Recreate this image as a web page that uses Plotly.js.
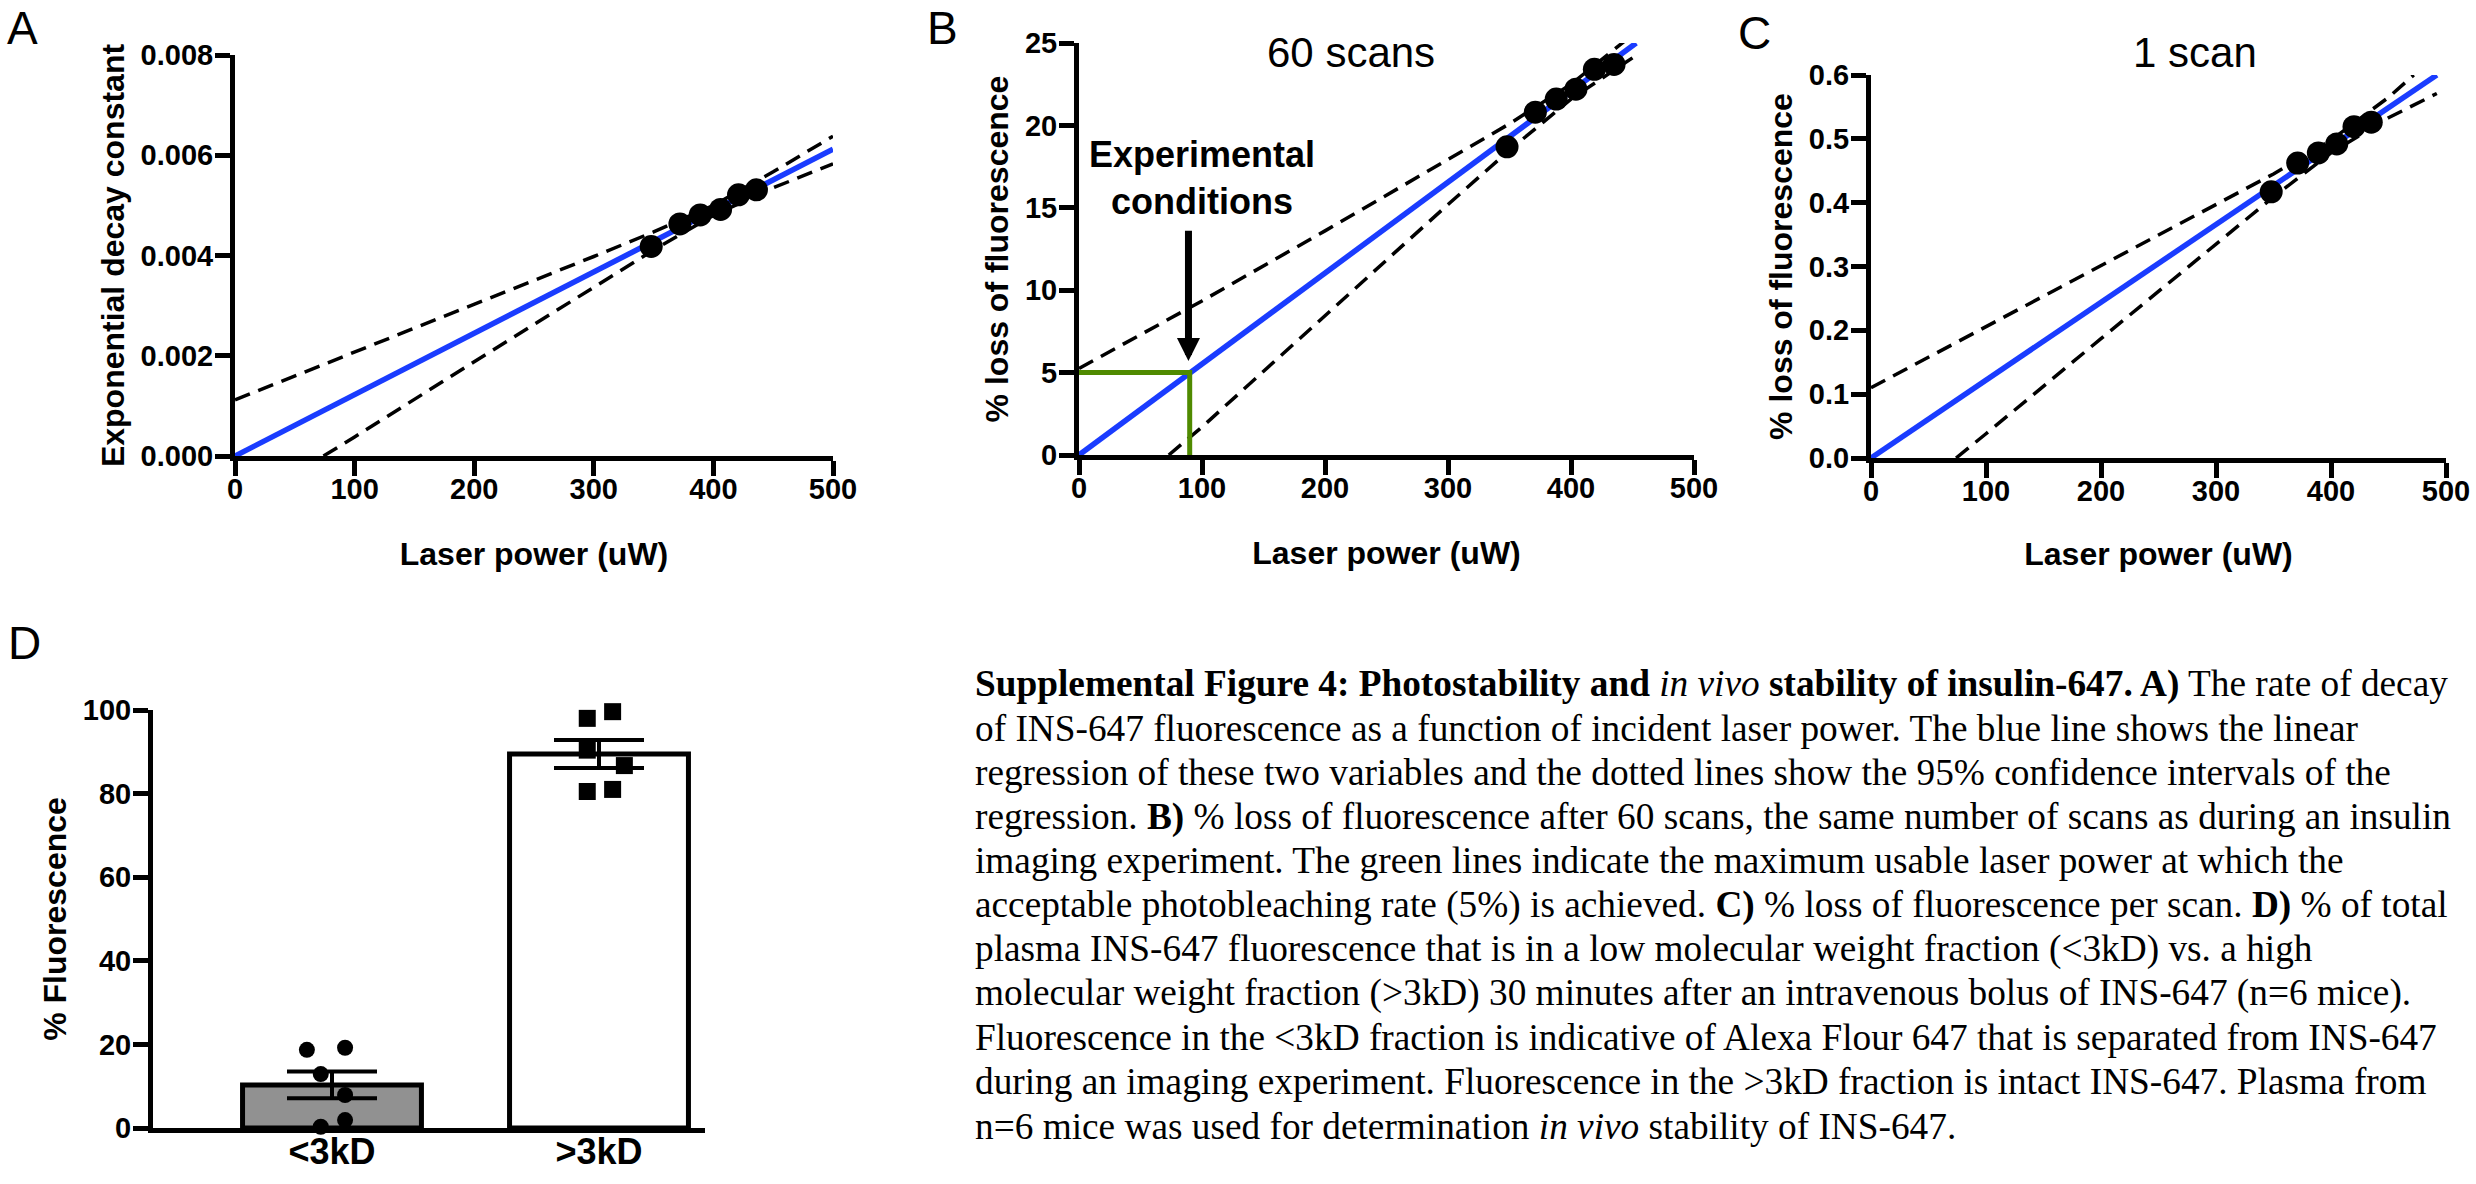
<!DOCTYPE html>
<html>
<head>
<meta charset="utf-8">
<script src="https://cdn.plot.ly/plotly-3.0.1.min.js"></script>
<style>
  html, body { margin: 0; padding: 0; background: #ffffff; }
  #fig { width: 2476px; height: 1184px; }
</style>
</head>
<body>
<div id="fig"></div>
<script>
// ================= DATA =================
// Panel A: exponential decay constant vs laser power
const laserPowerA   = [348, 372, 389, 406, 421, 436];
const decayConstant = [0.00418, 0.00463, 0.00481, 0.00492, 0.00521, 0.00531];
const fitXA = [0, 500];
const fitYA = [0, 0.00612];
const ciUpperXA = [0, 100, 200, 300, 350, 400, 450, 500];
const ciUpperYA = [0.00112, 0.00207, 0.00302, 0.00398, 0.00447, 0.00500, 0.00567, 0.00638];
const ciLowerXA = [74, 100, 200, 300, 350, 400, 450, 500];
const ciLowerYA = [0, 0.00038, 0.00188, 0.00337, 0.00411, 0.00480, 0.00535, 0.00583];

// Panel B: % loss of fluorescence after 60 scans
const laserPowerB = [348, 371, 388, 404, 419, 435];
const loss60Scans = [18.7, 20.8, 21.6, 22.2, 23.4, 23.7];
const fitXB = [0, 453];
const fitYB = [0, 25];
const ciUpperXB = [0, 100, 200, 300, 350, 400, 450];
const ciUpperYB = [5.25, 9.35, 13.6, 17.9, 20.1, 22.5, 25.5];
const ciLowerXB = [73, 100, 200, 300, 350, 400, 450];
const ciLowerYB = [0, 1.7, 8.45, 15.2, 18.5, 21.6, 24.1];
const usableX = [0, 90, 90];      // green "experimental conditions" guide
const usableY = [5, 5, 0];
const arrowPower = 89;
const arrowFrom = 13.7, arrowTo = 5.7;

// Panel C: % loss of fluorescence per scan
const laserPowerC = [348, 371, 389, 405, 420, 435];
const loss1Scan   = [0.417, 0.462, 0.478, 0.492, 0.519, 0.526];
const fitXC = [0, 492];
const fitYC = [0, 0.6];
const ciUpperXC = [0, 100, 200, 300, 350, 400, 450, 472];
const ciUpperYC = [0.11, 0.206, 0.301, 0.3965, 0.445, 0.498, 0.565, 0.6];
const ciLowerXC = [74, 100, 200, 300, 350, 400, 450, 492];
const ciLowerYC = [0, 0.038, 0.187, 0.336, 0.409, 0.478, 0.533, 0.571];

// Panel D: % fluorescence by molecular weight fraction
const fractions = ['<3kD', '>3kD'];
const meanPct   = [10.3, 89.5];
const semPct    = [3.2, 3.35];
const lowMWPct  = [18.7, 19.2, 12.9, 7.9, 1.9, 0.3];
const highMWPct = [98.0, 99.6, 90.4, 86.7, 80.5, 81.0];

// Tick values
const powerTicks = [0, 100, 200, 300, 400, 500];

// ================= STYLE / LAYOUT =================
const W = 2476, H = 1184;
const px = v => v / W;
const py = v => 1 - v / H;
const SANS = 'Liberation Sans, Arial, Helvetica, sans-serif';
const SERIF = 'Liberation Serif, Times New Roman, serif';
const BLUE = '#1a3cff';
const GREEN = '#4f8a00';
const dashStyle = {color: '#000000', width: 3.5, dash: '16px,9px'};
// horizontal scatter of the dots inside each bar (style only)
const lowJitter  = [-0.094, 0.049, -0.042, 0.049, 0.049, -0.042];
const highJitter = [-0.044, 0.051, -0.044, 0.095, -0.044, 0.051];

function ax(extra) {
  return Object.assign({
    showline: true, linecolor: '#000000', linewidth: 5,
    ticks: 'outside', ticklen: 15, tickwidth: 5, tickcolor: '#000000',
    showgrid: false, zeroline: false, fixedrange: true,
    tickfont: {family: SANS, size: 29, color: '#000000', weight: 'bold'}
  }, extra);
}
function ttl(text, standoff) {
  return {text: text, standoff: standoff,
          font: {family: SANS, size: 32, color: '#000000', weight: 'bold'}};
}

const traces = [];
function regressionPanel(xa, ya, cx1, cy1, cx2, cy2, fx, fy, px_, py_) {
  traces.push({type: 'scatter', mode: 'lines', x: cx1, y: cy1, xaxis: xa, yaxis: ya,
               line: dashStyle, hoverinfo: 'skip'});
  traces.push({type: 'scatter', mode: 'lines', x: cx2, y: cy2, xaxis: xa, yaxis: ya,
               line: dashStyle, hoverinfo: 'skip'});
  traces.push({type: 'scatter', mode: 'lines', x: fx, y: fy, xaxis: xa, yaxis: ya,
               line: {color: BLUE, width: 5.5}});
  return {type: 'scatter', mode: 'markers', x: px_, y: py_, xaxis: xa, yaxis: ya,
          cliponaxis: false, marker: {color: '#000000', size: 23, symbol: 'circle'}};
}
const dotsA = regressionPanel('x', 'y', ciUpperXA, ciUpperYA, ciLowerXA, ciLowerYA, fitXA, fitYA, laserPowerA, decayConstant);
traces.push(dotsA);
const dotsB = regressionPanel('x2', 'y2', ciUpperXB, ciUpperYB, ciLowerXB, ciLowerYB, fitXB, fitYB, laserPowerB, loss60Scans);
traces.push({type: 'scatter', mode: 'lines', x: usableX, y: usableY, xaxis: 'x2', yaxis: 'y2',
             line: {color: GREEN, width: 5}});
traces.push(dotsB);
const dotsC = regressionPanel('x3', 'y3', ciUpperXC, ciUpperYC, ciLowerXC, ciLowerYC, fitXC, fitYC, laserPowerC, loss1Scan);
traces.push(dotsC);

// Panel D bars + error bars
traces.push({type: 'bar', x: fractions.map((c, i) => i), y: meanPct, xaxis: 'x4', yaxis: 'y4',
             width: 0.67,
             marker: {color: ['#919191', '#ffffff'], line: {color: '#000000', width: 5}},
             error_y: {type: 'data', array: semPct, visible: true, color: '#000000', thickness: 4, width: 45}});
traces.push({type: 'scatter', mode: 'markers', xaxis: 'x4', yaxis: 'y4', cliponaxis: false,
             x: lowMWPct.map((v, i) => 0 + lowJitter[i]), y: lowMWPct,
             marker: {color: '#000000', size: 16, symbol: 'circle'}});
traces.push({type: 'scatter', mode: 'markers', xaxis: 'x4', yaxis: 'y4', cliponaxis: false,
             x: highMWPct.map((v, i) => 1 + highJitter[i]), y: highMWPct,
             marker: {color: '#000000', size: 17, symbol: 'square'}});

// Caption text lines
const captionLines = [
  '<b>Supplemental Figure 4: Photostability and </b><i>in vivo</i><b> stability of insulin-647. A)</b> The rate of decay',
  'of INS-647 fluorescence as a function of incident laser power. The blue line shows the linear',
  'regression of these two variables and the dotted lines show the 95% confidence intervals of the',
  'regression. <b>B)</b> % loss of fluorescence after 60 scans, the same number of scans as during an insulin',
  'imaging experiment. The green lines indicate the maximum usable laser power at which the',
  'acceptable photobleaching rate (5%) is achieved. <b>C)</b> % loss of fluorescence per scan. <b>D)</b> % of total',
  'plasma INS-647 fluorescence that is in a low molecular weight fraction (&lt;3kD) vs. a high',
  'molecular weight fraction (&gt;3kD) 30 minutes after an intravenous bolus of INS-647 (n=6 mice).',
  'Fluorescence in the &lt;3kD fraction is indicative of Alexa Flour 647 that is separated from INS-647',
  'during an imaging experiment. Fluorescence in the &gt;3kD fraction is intact INS-647. Plasma from',
  'n=6 mice was used for determination <i>in vivo</i> stability of INS-647.'
];

const annotations = [];
function label(text, x, y, size, extra) {
  annotations.push(Object.assign({xref: 'paper', yref: 'paper', x: px(x), y: py(y),
    xanchor: 'center', yanchor: 'middle', showarrow: false, text: text,
    font: {family: SANS, size: size, color: '#000000'}}, extra || {}));
}
label('A', 22, 0, 46, {yanchor: 'top'});
label('B', 942, 0, 46, {yanchor: 'top'});
label('C', 1754, 5, 46, {yanchor: 'top'});
label('D', 24, 643, 46);
label('60 scans', 1351, 53, 42);
label('1 scan', 2195, 52, 42);
label('Experimental<br>conditions', 1202, 178, 36,
      {font: {family: SANS, size: 36, color: '#000000', weight: 'bold'}});
annotations.push({xref: 'x2', yref: 'y2', axref: 'x2', ayref: 'y2',
  x: arrowPower, y: arrowTo, ax: arrowPower, ay: arrowFrom, text: '',
  showarrow: true, arrowhead: 2, arrowsize: 0.66, arrowwidth: 7, arrowcolor: '#000000', standoff: 0, startstandoff: 0});
captionLines.forEach((t, i) => {
  annotations.push({xref: 'paper', yref: 'paper', x: px(973), y: py(684 + i * 44.2),
    xanchor: 'left', yanchor: 'middle', showarrow: false, align: 'left', text: t,
    font: {family: SERIF, size: 37.3, color: '#000000'}});
});

const layout = {
  width: W, height: H,
  margin: {l: 0, r: 0, t: 0, b: 0, pad: 0},
  paper_bgcolor: '#ffffff', plot_bgcolor: 'rgba(0,0,0,0)',
  showlegend: false,
  font: {family: SANS, color: '#000000'},
  // Panel A
  xaxis: ax({domain: [px(235), px(833)], range: [0, 500], tickvals: powerTicks, anchor: 'y',
             ticklabelstandoff: -12, title: ttl('Laser power (uW)', 40)}),
  yaxis: ax({domain: [py(456), py(55)], range: [0, 0.008], dtick: 0.002, tickformat: '.3f', anchor: 'x',
             ticklabelstandoff: -4, title: ttl('Exponential decay constant', 8)}),
  // Panel B
  xaxis2: ax({domain: [px(1079), px(1694)], range: [0, 500], tickvals: powerTicks, anchor: 'y2',
              ticklabelstandoff: -12, title: ttl('Laser power (uW)', 40)}),
  yaxis2: ax({domain: [py(455), py(43)], range: [0, 25], dtick: 5, anchor: 'x2',
              ticklabelstandoff: -4, title: ttl('% loss of fluorescence', 8)}),
  // Panel C
  xaxis3: ax({domain: [px(1871), px(2446)], range: [0, 500], tickvals: powerTicks, anchor: 'y3',
              ticklabelstandoff: -12, title: ttl('Laser power (uW)', 38)}),
  yaxis3: ax({domain: [py(458), py(75)], range: [0, 0.6], dtick: 0.1, tickformat: '.1f', anchor: 'x3',
              ticklabelstandoff: -4, title: ttl('% loss of fluorescence', 8)}),
  // Panel D
  xaxis4: ax({domain: [px(153), px(705)], range: [-0.6704, 1.397], anchor: 'y4',
              tickvals: [0, 1], ticktext: fractions.map(s => s.replace('<', '&lt;').replace('>', '&gt;')),
              ticks: '', ticklabelstandoff: -12,
              tickfont: {family: SANS, size: 36, color: '#000000', weight: 'bold'}}),
  yaxis4: ax({domain: [py(1128), py(710)], range: [0, 100], dtick: 20, anchor: 'x4',
              ticklabelstandoff: -4, title: ttl('% Fluorescence', 8)}),
  annotations: annotations
};

Plotly.newPlot('fig', traces, layout, {displayModeBar: false, staticPlot: true});
</script>
</body>
</html>
